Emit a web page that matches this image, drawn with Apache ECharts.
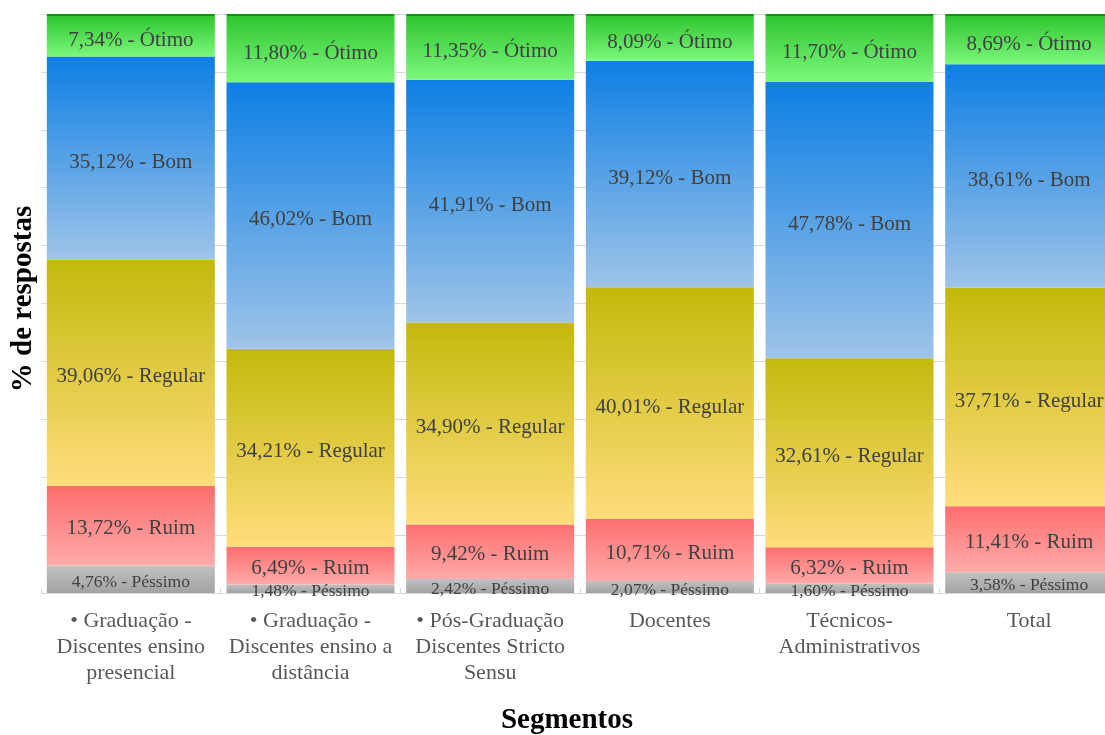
<!DOCTYPE html>
<html>
<head>
<meta charset="utf-8">
<script src="https://cdn.jsdelivr.net/npm/echarts@6/dist/echarts.min.js"></script>
<style>
html,body{margin:0;padding:0;background:#fff;}
#c{width:1105px;height:735px;}
</style>
</head>
<body>
<div id="c"></div>
<script>
const categories = [
  "• Graduação -\nDiscentes ensino\npresencial",
  "• Graduação -\nDiscentes ensino a\ndistância",
  "• Pós-Graduação\nDiscentes Stricto\nSensu",
  "Docentes",
  "Técnicos-\nAdministrativos",
  "Total"
];
const seriesNames = ["Péssimo", "Ruim", "Regular", "Bom", "Ótimo"];
const pessimo = [4.76, 1.48, 2.42, 2.07, 1.60, 3.58];
const ruim    = [13.72, 6.49, 9.42, 10.71, 6.32, 11.41];
const regular = [39.06, 34.21, 34.90, 40.01, 32.61, 37.71];
const bom     = [35.12, 46.02, 41.91, 39.12, 47.78, 38.61];
const otimo   = [7.34, 11.80, 11.35, 8.09, 11.70, 8.69];
const yTicks = [0, 10, 20, 30, 40, 50, 60, 70, 80, 90, 100];

const FONT = '"Liberation Serif", "Times New Roman", serif';

function grad(top, bottom) {
  return new echarts.graphic.LinearGradient(0, 0, 0, 1, [
    {offset: 0, color: top}, {offset: 1, color: bottom}
  ]);
}

const styles = {
  "Péssimo": {color: grad('#c2c2c2', '#a2a2a2'), size: 17.5, dy: 3},
  "Ruim": {color: grad('#ff6e6e', '#ffaaaa'), size: 21, dy: 3},
  "Regular": {color: grad('#c3b90b', '#ffdd7c'), size: 21, dy: 4},
  "Bom": {color: grad('#0d7fe4', '#9fc4e8'), size: 21, dy: 4},
  "Ótimo": {color: null, size: 21, dy: 5}
};

const plotH = 579;

function otimoData() {
  return otimo.map(v => {
    const f = Math.min(0.2, 2.2 / (v / 100 * plotH));
    return {
      value: v,
      itemStyle: {
        color: new echarts.graphic.LinearGradient(0, 0, 0, 1, [
          {offset: 0, color: '#0a9a0a'},
          {offset: f, color: '#0a9a0a'},
          {offset: f, color: '#30c630'},
          {offset: 1, color: '#7cf87c'}
        ])
      }
    };
  });
}

const dataArrays = [pessimo, ruim, regular, bom, otimo];

const series = seriesNames.map((name, i) => ({
  name: name,
  type: 'bar',
  stack: 'total',
  barCategoryGap: '6.5%',
  data: name === 'Ótimo' ? otimoData() : dataArrays[i],
  itemStyle: styles[name].color ? {color: styles[name].color} : {},
  label: {
    show: true,
    position: 'inside',
    color: '#404040',
    fontFamily: FONT,
    fontSize: styles[name].size,
    formatter: p => p.value.toFixed(2).replace('.', ',') + '% - ' + name
  },
  labelLayout: {hideOverlap: false, dy: styles[name].dy},
  emphasis: {disabled: true}
}));

const chart = echarts.init(document.getElementById('c'), null, {renderer: 'canvas'});
chart.setOption({
  animation: false,
  backgroundColor: '#ffffff',
  grid: {left: 41, top: 14, width: 1078, height: 579, outerBoundsMode: 'none', containLabel: false},
  xAxis: {
    type: 'category',
    data: categories,
    axisLine: {show: true, lineStyle: {color: '#d9d9d9', width: 1}},
    axisTick: {show: true, inside: true, length: 5, alignWithLabel: false, lineStyle: {color: '#d9d9d9'}},
    axisLabel: {
      interval: 0,
      margin: 15,
      color: '#595959',
      fontFamily: FONT,
      fontSize: 22,
      lineHeight: 26,
      align: 'center'
    }
  },
  yAxis: {
    type: 'value',
    min: yTicks[0],
    max: yTicks[yTicks.length - 1],
    interval: 10,
    axisLabel: {show: false},
    axisLine: {show: false},
    axisTick: {show: false},
    splitLine: {show: true, lineStyle: {color: '#d9d9d9', width: 1}}
  },
  series: series,
  graphic: [
    {
      type: 'text',
      x: 24, y: 299,
      rotation: Math.PI / 2,
      style: {
        text: '% de respostas',
        fill: '#000',
        font: 'bold 29px ' + FONT,
        align: 'center',
        verticalAlign: 'middle'
      }
    },
    {
      type: 'text',
      x: 567, y: 721,
      style: {
        text: 'Segmentos',
        fill: '#000',
        font: 'bold 29px ' + FONT,
        align: 'center',
        verticalAlign: 'middle'
      }
    }
  ]
});
</script>
</body>
</html>
